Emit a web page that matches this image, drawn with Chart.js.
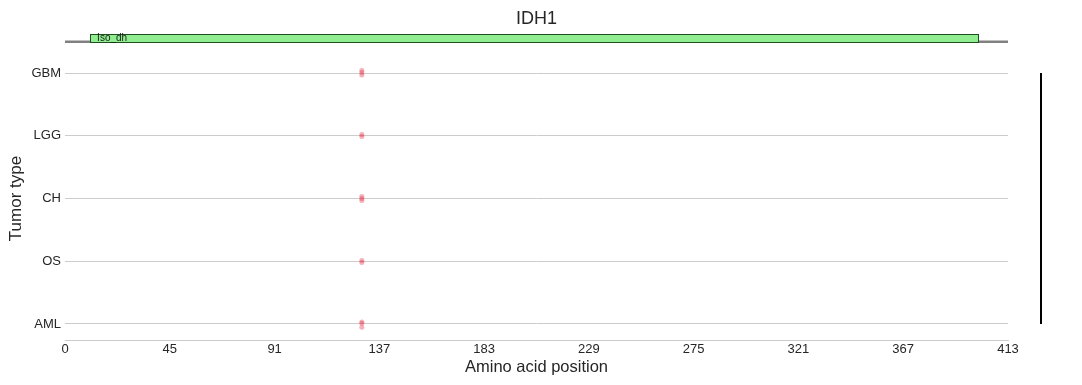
<!DOCTYPE html>
<html>
<head>
<meta charset="utf-8">
<script src="https://cdn.jsdelivr.net/npm/chart.js@4.4.1/dist/chart.umd.min.js"></script>
<style>
  html, body { margin: 0; padding: 0; background: #fff; }
  #wrap { width: 1082px; height: 385px; }
</style>
</head>
<body>
<div id="wrap"><canvas id="chart"></canvas></div>
<script>
// protein / track data
const geneName = "IDH1";
const proteinLength = 413;
const domainNames = ["Iso_dh"];
const domainStarts = [11];
const domainEnds = [400];

// tumor rows, top to bottom
const tumorTypes = ["GBM", "LGG", "CH", "OS", "AML"];
const tumorRowValues = [4, 3, 2, 1, 0];

// mutation points (position, row value incl. small jitter)
const mutPositions = [130, 130, 130, 130, 130, 130, 130, 130, 130, 130, 130, 130, 130];
const mutRows = [4.04, 4.01, 3.97, 3.02, 2.99, 2.03, 2.0, 1.97, 1.01, 0.98, 0.03, 0.01, -0.05];

// x axis ticks
const xTickValues = [0, 45.9, 91.8, 137.7, 183.6, 229.4, 275.3, 321.2, 367.1, 413];
const xTickLabels = ["0", "45", "91", "137", "183", "229", "275", "321", "367", "413"];

const backboneRow = 4.5;

const FONT = "'Liberation Sans', Arial, sans-serif";
const TEXT = "#262626";

// domain boxes + label, y title, right marker bar
const trackPlugin = {
  id: "track",
  afterDatasetsDraw(chart) {
    const { ctx, scales: { x, y } } = chart;
    ctx.save();
    for (let i = 0; i < domainNames.length; i++) {
      const x0 = x.getPixelForValue(domainStarts[i]);
      const x1 = x.getPixelForValue(domainEnds[i]);
      const yTop = y.getPixelForValue(4.615);
      const yBot = y.getPixelForValue(4.485);
      ctx.fillStyle = "#90ee90";
      ctx.fillRect(x0, yTop, x1 - x0, yBot - yTop);
      ctx.strokeStyle = "#1f4f1f";
      ctx.lineWidth = 1;
      ctx.strokeRect(Math.round(x0) + 0.5, Math.round(yTop) + 0.5, Math.round(x1 - x0), Math.round(yBot - yTop));
      ctx.fillStyle = "#1a1a1a";
      ctx.font = "10px " + FONT;
      ctx.textBaseline = "middle";
      ctx.fillText(domainNames[i], x0 + 7, (yTop + yBot) / 2);
    }

    const rowTop = y.getPixelForValue(tumorRowValues[0]);
    const rowBot = y.getPixelForValue(tumorRowValues[tumorRowValues.length - 1]);

    // y axis title, centred on the tumour rows
    ctx.save();
    ctx.translate(16, (rowTop + rowBot) / 2);
    ctx.rotate(-Math.PI / 2);
    ctx.fillStyle = TEXT;
    ctx.font = "17px " + FONT;
    ctx.textAlign = "center";
    ctx.textBaseline = "middle";
    ctx.fillText("Tumor type", 0, 0);
    ctx.restore();

    // vertical bar to the right
    const bx = chart.chartArea.right + 33;
    ctx.strokeStyle = "#000";
    ctx.lineWidth = 2;
    ctx.beginPath();
    ctx.moveTo(bx, rowTop);
    ctx.lineTo(bx, rowBot);
    ctx.stroke();
    ctx.restore();
  }
};

new Chart(document.getElementById("chart"), {
  type: "scatter",
  data: {
    datasets: [
      {
        type: "line",
        data: [{ x: 0, y: backboneRow }, { x: proteinLength, y: backboneRow }],
        borderColor: "#808080",
        borderWidth: 2.5,
        pointRadius: 0,
        clip: false,
        order: 2
      },
      {
        data: mutPositions.map((p, i) => ({ x: p, y: mutRows[i] })),
        backgroundColor: "rgba(228, 60, 80, 0.4)",
        borderColor: "rgba(228, 60, 80, 0.4)",
        borderWidth: 0,
        pointRadius: 2.5,
        order: 1
      }
    ]
  },
  options: {
    responsive: true,
    maintainAspectRatio: false,
    animation: false,
    layout: { padding: { left: 0, right: 74, top: 0, bottom: 0 } },
    plugins: {
      legend: { display: false },
      tooltip: { enabled: false },
      title: {
        display: true,
        text: geneName,
        color: TEXT,
        fullSize: false,
        font: { family: FONT, size: 18, weight: "normal" },
        padding: { top: 8, bottom: 4 }
      }
    },
    scales: {
      x: {
        type: "linear",
        min: 0,
        max: proteinLength,
        afterBuildTicks(scale) { scale.ticks = xTickValues.map(v => ({ value: v })); },
        afterFit(scale) { scale.height = 45; },
        ticks: {
          autoSkip: false,
          maxRotation: 0,
          padding: 2,
          color: TEXT,
          font: { family: FONT, size: 13 },
          callback: (v, i) => xTickLabels[i]
        },
        grid: { display: false, drawTicks: false },
        border: { display: true, color: "#cccccc", width: 1 },
        title: {
          display: true,
          text: "Amino acid position",
          color: TEXT,
          font: { family: FONT, size: 16.5 },
          padding: { top: 2, bottom: 8 }
        }
      },
      y: {
        type: "linear",
        min: -0.255,
        max: 4.628,
        afterBuildTicks(scale) { scale.ticks = tumorRowValues.map(v => ({ value: v })); },
        afterFit(scale) { scale.width = 65; },
        ticks: {
          color: TEXT,
          padding: 4,
          font: { family: FONT, size: 13 },
          callback: (v) => tumorTypes[tumorRowValues.indexOf(v)]
        },
        grid: { color: "#cccccc", lineWidth: 1, drawTicks: false },
        border: { display: false },
        title: { display: false }
      }
    }
  },
  plugins: [trackPlugin]
});
</script>
</body>
</html>
